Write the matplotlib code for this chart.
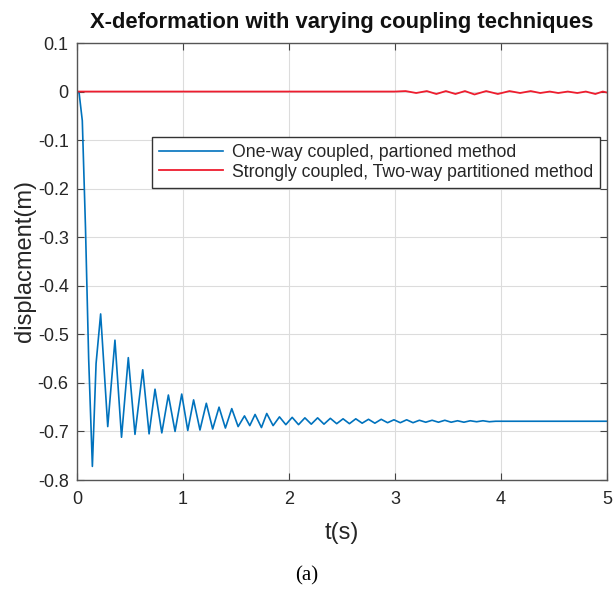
import numpy as np
import matplotlib
matplotlib.use('Agg')
import matplotlib.pyplot as plt

plt.rcParams['font.family'] = ['Liberation Sans', 'DejaVu Sans']
plt.rcParams['axes.unicode_minus'] = False

# one-way coupled, partitioned method (extrema)
t_one = [0, 0.02, 0.05, 0.08, 0.11, 0.145, 0.18, 0.223, 0.29, 0.358, 0.42, 0.484,
         0.547, 0.62, 0.68, 0.736, 0.80, 0.862, 0.925, 0.988, 1.045, 1.10, 1.16,
         1.22, 1.28, 1.34, 1.40, 1.46, 1.52, 1.58, 1.63, 1.68, 1.74, 1.79, 1.85,
         1.91, 1.97, 2.03, 2.09, 2.15, 2.21, 2.27, 2.33, 2.39, 2.45, 2.51, 2.57,
         2.63, 2.69, 2.75, 2.81, 2.87, 2.93, 2.99, 3.05, 3.11, 3.17, 3.23, 3.29,
         3.35, 3.41, 3.47, 3.53, 3.59, 3.65, 3.71, 3.77, 3.83, 3.89, 3.95, 4.05,
         5.0]
y_one = [0, -0.003, -0.06, -0.28, -0.55, -0.772, -0.56, -0.458, -0.69, -0.512,
         -0.712, -0.548, -0.706, -0.573, -0.705, -0.613, -0.703, -0.625, -0.700,
         -0.623, -0.698, -0.635, -0.697, -0.642, -0.695, -0.650, -0.693, -0.653,
         -0.690, -0.668, -0.688, -0.665, -0.692, -0.663, -0.688, -0.670, -0.686,
         -0.671, -0.686, -0.672, -0.685, -0.672, -0.685, -0.673, -0.684, -0.674,
         -0.684, -0.674, -0.683, -0.675, -0.683, -0.675, -0.682, -0.676, -0.682,
         -0.676, -0.682, -0.677, -0.681, -0.677, -0.681, -0.677, -0.681, -0.678,
         -0.681, -0.678, -0.680, -0.678, -0.680, -0.679, -0.679, -0.679]

# strongly coupled, two-way partitioned method
t_two = [0, 3.0, 3.10, 3.20, 3.30, 3.39, 3.48, 3.57, 3.66, 3.75, 3.86, 3.97,
         4.08, 4.18, 4.28, 4.37, 4.46, 4.54, 4.63, 4.72, 4.80, 4.89, 4.96, 5.0]
y_two = [0, 0, 0.001, -0.003, 0.001, -0.005, 0.001, -0.005, 0.001, -0.006,
         0.001, -0.005, 0.001, -0.003, 0.001, -0.003, 0.0, -0.003, 0.0, -0.003,
         0.0, -0.005, 0.0, -0.002]

xticks = [0, 1, 2, 3, 4, 5]
yticks = [0.1, 0, -0.1, -0.2, -0.3, -0.4, -0.5, -0.6, -0.7, -0.8]
ylabels = ['0.1', '0', '-0.1', '-0.2', '-0.3', '-0.4', '-0.5', '-0.6', '-0.7', '-0.8']

fig = plt.figure(figsize=(6.14, 5.92), dpi=100)
ax = fig.add_axes([77/614, 1-480/592, 530/614, 437/592])

ax.plot(t_one, y_one, color='#0072BD', lw=1.2, label='One-way coupled, partioned method')
ax.plot(t_two, y_two, color='#EE1D2E', lw=1.3, label='Strongly coupled, Two-way partitioned method')

ax.set_xlim(0, 5)
ax.set_ylim(-0.8, 0.1)
ax.set_xticks(xticks)
ax.set_yticks(yticks)
ax.set_yticklabels(ylabels)
ax.grid(True, color='#dcdcdc', lw=0.8)
ax.set_axisbelow(True)
ax.tick_params(direction='in', top=True, right=True, length=5, width=0.8,
               color='#444444', labelsize=13, labelcolor='#262626')
ax.tick_params(axis='x', pad=8)
ax.tick_params(axis='y', pad=6)
for s in ax.spines.values():
    s.set_color('#555555')
    s.set_linewidth(1.0)

ax.set_title('X-deformation with varying coupling techniques', fontsize=15.8,
             fontweight='bold', color='#111111', pad=11)
ax.set_xlabel('t(s)', fontsize=17, color='#262626', labelpad=10)
ax.set_ylabel('displacment(m)', fontsize=17, color='#262626', labelpad=1)

leg = ax.legend(loc='upper right', bbox_to_anchor=(0.987, 0.785), borderaxespad=0,
                fontsize=12.7, handlelength=3.6, handletextpad=0.5, borderpad=0.4,
                labelspacing=0.15, fancybox=False, framealpha=1)
leg.get_frame().set_edgecolor('#333333')
leg.get_frame().set_linewidth(1.0)
for txt in leg.get_texts():
    txt.set_color('#262626')

fig.text(0.5, 1-576/592, '(a)', ha='center', va='center', fontsize=15,
         family='Liberation Serif', color='black')

fig.savefig('out.png', dpi=100)
